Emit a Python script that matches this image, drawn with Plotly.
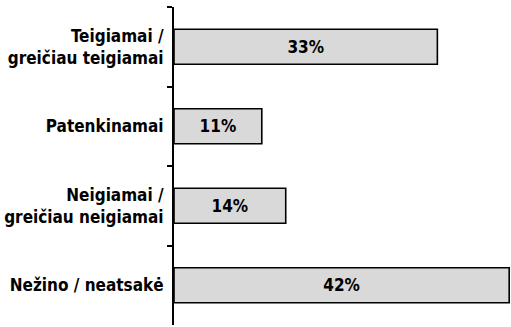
import plotly.graph_objects as go

categories = ["Teigiamai /<br>greičiau teigiamai", "Patenkinamai",
              "Neigiamai /<br>greičiau neigiamai", "Nežino / neatsakė"]
values = [33, 11, 14, 42]
labels = [f"{v}%" for v in values]

FONT = "DejaVu Sans Condensed, Liberation Sans Narrow, sans-serif"

fig = go.Figure(go.Bar(
    x=values, y=categories, orientation="h",
    text=labels, textposition="inside", insidetextanchor="middle",
    textfont=dict(family=FONT, size=17, color="black", weight="bold"),
    marker=dict(color="#d9d9d9", line=dict(color="black", width=1.6)),
    textangle=0,
))

fig.update_layout(
    width=511, height=327,
    margin=dict(l=174, r=1, t=7, b=2),
    plot_bgcolor="white", paper_bgcolor="white",
    bargap=0.56, showlegend=False,
    font=dict(family=FONT, color="black"),
)
fig.update_xaxes(visible=False, range=[0, 42.1], showgrid=False, zeroline=False)
fig.update_yaxes(
    autorange="reversed", showline=True, linecolor="black", linewidth=2,
    ticks="outside", tickson="boundaries", ticklen=5, tickwidth=2, tickcolor="black",
    showgrid=False,
    tickfont=dict(family=FONT, size=17, color="black", weight="bold"),
    ticklabelstandoff=5,
)

fig.write_html("out.html")
